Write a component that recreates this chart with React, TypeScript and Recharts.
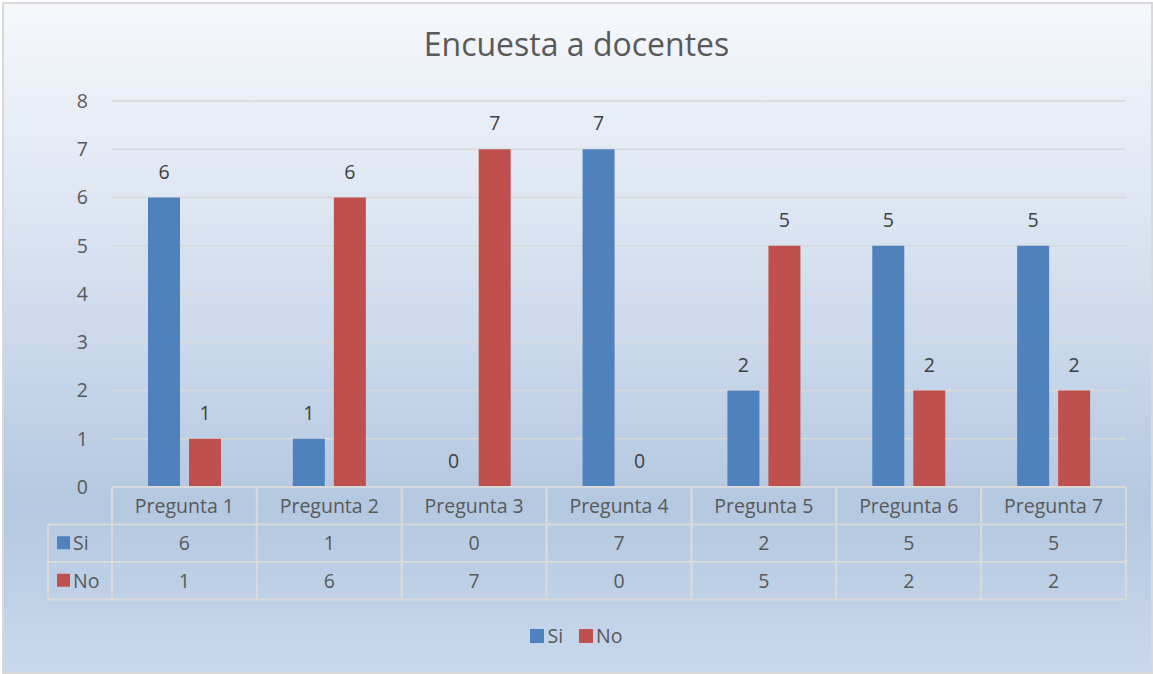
import { BarChart, Bar, XAxis, YAxis, CartesianGrid, LabelList } from 'recharts';

const categories = ['Pregunta 1', 'Pregunta 2', 'Pregunta 3', 'Pregunta 4', 'Pregunta 5', 'Pregunta 6', 'Pregunta 7'];
const siValues = [6, 1, 0, 7, 2, 5, 5];
const noValues = [1, 6, 7, 0, 5, 2, 2];
const yTicks = [0, 1, 2, 3, 4, 5, 6, 7, 8];

const COLORS = { si: '#4F81BD', no: '#C0504D' };
const TEXT = '#595959';
const LINE = '#d9d9d9';
const FONT = '"Open Sans", sans-serif';

const W = 1153;
const H = 674;
const PLOT_LEFT = 112;
const PLOT_RIGHT = 1126;
const PLOT_TOP = 101;
const PLOT_BOTTOM = 487;
const BAND = (PLOT_RIGHT - PLOT_LEFT) / categories.length;
const ROW_H = 37.5;
const LEFT_COL = 48;
const FS = 19.5;
const BAR = 32;
const GAP = 9;
const LABEL_OFF = 19;

const data = categories.map((name, i) => ({ name, Si: siValues[i], No: noValues[i] }));

// x axis tick draws the data table column for that category
const TableTick = (props: any) => {
  const { x, index, payload } = props;
  const left = x - BAND / 2;
  const top = PLOT_BOTTOM;
  const rows = [siValues[index], noValues[index]];
  return (
    <g>
      <line x1={left} x2={left + BAND} y1={top} y2={top} stroke={LINE} strokeWidth={2} />
      <line x1={left + BAND} x2={left + BAND} y1={top} y2={top + ROW_H * 3} stroke={LINE} strokeWidth={2} />
      <line x1={left} x2={left} y1={top} y2={top + ROW_H * 3} stroke={LINE} strokeWidth={2} />
      {[1, 2, 3].map((r) => (
        <line key={r} x1={left} x2={left + BAND} y1={top + ROW_H * r} y2={top + ROW_H * r} stroke={LINE} strokeWidth={2} />
      ))}
      <text x={x} y={top + ROW_H * 0.5} dy={7} textAnchor="middle" fill={TEXT} fontSize={FS} fontFamily={FONT}>
        {payload.value}
      </text>
      {rows.map((v, r) => (
        <text key={r} x={x} y={top + ROW_H * (r + 1.5)} dy={7} textAnchor="middle" fill={TEXT} fontSize={FS} fontFamily={FONT}>
          {v}
        </text>
      ))}
      {/* zero-height bars get no label from recharts, so label them here */}
      {rows.map((v, r) =>
        v === 0 ? (
          <text
            key={`z${r}`}
            x={x + (r === 0 ? -1 : 1) * (BAR + GAP) / 2}
            y={top - LABEL_OFF}
            textAnchor="middle"
            fill="#404040"
            fontSize={FS}
            fontFamily={FONT}
          >
            0
          </text>
        ) : null
      )}
      {index === 0 && (
        <g>
          <line x1={LEFT_COL} x2={left} y1={top + ROW_H} y2={top + ROW_H} stroke={LINE} strokeWidth={2} />
          <line x1={LEFT_COL} x2={left} y1={top + ROW_H * 2} y2={top + ROW_H * 2} stroke={LINE} strokeWidth={2} />
          <line x1={LEFT_COL} x2={left} y1={top + ROW_H * 3} y2={top + ROW_H * 3} stroke={LINE} strokeWidth={2} />
          <line x1={LEFT_COL} x2={LEFT_COL} y1={top + ROW_H} y2={top + ROW_H * 3} stroke={LINE} strokeWidth={2} />
          <rect x={57} y={top + ROW_H * 1.5 - 7} width={13} height={13} fill={COLORS.si} />
          <text x={73} y={top + ROW_H * 1.5} dy={7} fill={TEXT} fontSize={FS} fontFamily={FONT}>Si</text>
          <rect x={57} y={top + ROW_H * 2.5 - 7} width={13} height={13} fill={COLORS.no} />
          <text x={73} y={top + ROW_H * 2.5} dy={7} fill={TEXT} fontSize={FS} fontFamily={FONT}>No</text>
        </g>
      )}
    </g>
  );
};

const renderLabel = (props: any) => {
  const { x, y, width, value } = props;
  return (
    <text x={Number(x) + Number(width) / 2} y={Number(y) - LABEL_OFF} textAnchor="middle" fill="#404040" fontSize={FS} fontFamily={FONT}>
      {value}
    </text>
  );
};

export default function App() {
  return (
    <div style={{ position: 'absolute', left: 0, top: 0, width: W, height: H, overflow: 'hidden' }}>
      <div
        style={{
          position: 'absolute',
          left: 2,
          top: 2,
          width: W - 6,
          height: H - 6,
          border: `2px solid ${LINE}`,
          background: 'linear-gradient(180deg, #f6f8fc 0%, #d9e3f1 35%, #b4c8e1 75%, #c9d8ec 100%)',
        }}
      />
      <div
        style={{
          position: 'absolute',
          left: 0,
          top: 22,
          width: W,
          textAlign: 'center',
          fontFamily: FONT,
          fontSize: 32,
          color: TEXT,
        }}
      >
        Encuesta a docentes
      </div>
      <div style={{ position: 'absolute', left: 0, top: 0 }}>
        <BarChart
          width={W}
          height={H}
          data={data}
          margin={{ top: PLOT_TOP, left: PLOT_LEFT - 60, right: W - PLOT_RIGHT, bottom: 0 }}
          barSize={BAR}
          barGap={GAP}
        >
          <CartesianGrid vertical={false} stroke={LINE} strokeWidth={1.5} />
          <XAxis
            dataKey="name"
            axisLine={false}
            tickLine={false}
            tick={<TableTick />}
            height={H - PLOT_BOTTOM}
            interval={0}
          />
          <YAxis
            domain={[0, 8]}
            ticks={yTicks}
            axisLine={false}
            tickLine={false}
            width={60}
            tick={{ fill: TEXT, fontSize: FS, fontFamily: FONT }}
            tickMargin={18}
          />
          <Bar dataKey="Si" fill={COLORS.si} isAnimationActive={false}>
            <LabelList dataKey="Si" content={renderLabel} />
          </Bar>
          <Bar dataKey="No" fill={COLORS.no} isAnimationActive={false}>
            <LabelList dataKey="No" content={renderLabel} />
          </Bar>
        </BarChart>
      </div>
      <div
        style={{
          position: 'absolute',
          left: 0,
          top: 622,
          width: W,
          display: 'flex',
          justifyContent: 'center',
          gap: 16,
          fontFamily: FONT,
          fontSize: FS,
          color: TEXT,
        }}
      >
        {[{ n: 'Si', c: COLORS.si }, { n: 'No', c: COLORS.no }].map((it) => (
          <span key={it.n} style={{ display: 'flex', alignItems: 'center' }}>
            <span style={{ width: 14, height: 14, background: it.c, display: 'inline-block', marginRight: 3 }} />
            {it.n}
          </span>
        ))}
      </div>
    </div>
  );
}
